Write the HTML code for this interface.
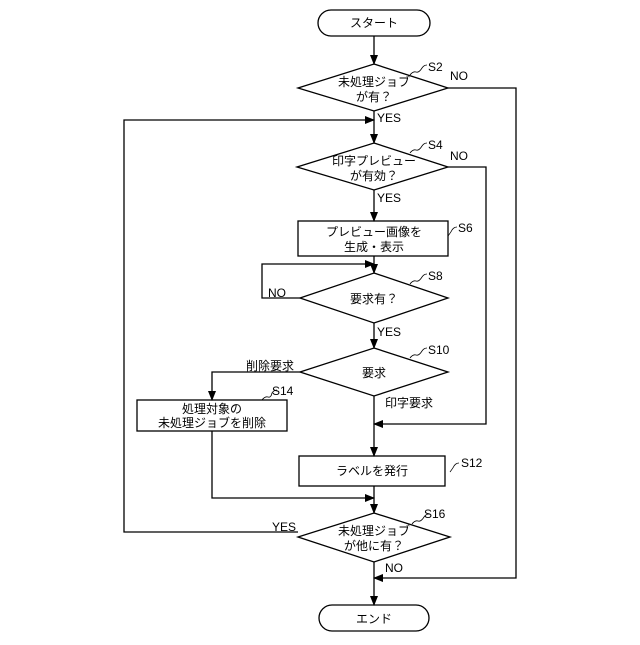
<!DOCTYPE html>
<html><head><meta charset="utf-8"><style>
body{margin:0;background:#fff}
text{font-family:"Liberation Sans","Noto Sans CJK JP",sans-serif;font-size:12px;fill:#000}
</style></head><body>
<svg width="640" height="640" viewBox="0 0 640 640" xmlns="http://www.w3.org/2000/svg">
<defs><marker id="a" markerWidth="10" markerHeight="10" refX="9" refY="5" orient="auto" markerUnits="userSpaceOnUse"><path d="M0,1 L10,5 L0,9 Z" fill="#000"/></marker></defs>
<g fill="none" stroke="#000" stroke-width="1.3">
<rect x="318" y="10" width="112" height="26" rx="13" fill="#fff"/>
<rect x="319" y="605" width="110" height="26" rx="13" fill="#fff"/>
<line x1="374" y1="36" x2="374" y2="64" marker-end="url(#a)"/>
<polygon points="374,64 448,88 374,111 298,88"/>
<polyline points="448,88 516,88 516,578 374,578" marker-end="url(#a)"/>
<line x1="374" y1="111" x2="374" y2="143" marker-end="url(#a)"/>
<polyline points="298,532 124,532 124,120 374,120" marker-end="url(#a)"/>
<polygon points="374,143 448,167 374,190 297,167"/>
<polyline points="448,167 486,167 486,424 374,424" marker-end="url(#a)"/>
<line x1="374" y1="190" x2="374" y2="221" marker-end="url(#a)"/>
<rect x="298" y="221" width="150" height="35"/>
<line x1="374" y1="256" x2="374" y2="273" marker-end="url(#a)"/>
<polygon points="374,273 448,298 374,323 300,298"/>
<polyline points="300,298 262,298 262,264 374,264" marker-end="url(#a)"/>
<line x1="374" y1="323" x2="374" y2="348" marker-end="url(#a)"/>
<polygon points="374,348 448,372 374,396 300,372"/>
<polyline points="300,372 212,372 212,400" marker-end="url(#a)"/>
<rect x="137" y="400" width="150" height="31"/>
<polyline points="212,431 212,498 374,498" marker-end="url(#a)"/>
<line x1="374" y1="396" x2="374" y2="456" marker-end="url(#a)"/>
<rect x="299" y="456" width="146" height="30"/>
<line x1="374" y1="486" x2="374" y2="513" marker-end="url(#a)"/>
<polygon points="374,513 450,537 374,562 298,537"/>
<line x1="374" y1="562" x2="374" y2="605" marker-end="url(#a)"/>
<path d="M410,75 q3,-4 6,-3 q3,1 6,-4 q2,-3 5,-3" stroke-width="0.8"/>
<path d="M410,153 q3,-4 6,-3 q3,1 6,-4 q2,-3 5,-3" stroke-width="0.8"/>
<path d="M448,236 q3,-4 4,-6 q2,-3 5,-3" stroke-width="0.8"/>
<path d="M410,284 q3,-4 6,-3 q3,1 6,-4 q2,-3 5,-3" stroke-width="0.8"/>
<path d="M410,358 q3,-4 6,-3 q3,1 6,-4 q2,-3 5,-3" stroke-width="0.8"/>
<path d="M262,400 q3,-4 6,-3 q3,1 4,-4 q2,-3 5,-3" stroke-width="0.8"/>
<path d="M450,472 q3,-4 4,-6 q2,-3 5,-3" stroke-width="0.8"/>
<path d="M412,524 q3,-4 6,-3 q3,1 6,-4 q2,-3 5,-3" stroke-width="0.8"/>
</g>
<g text-anchor="middle">
<text x="374" y="27">スタート</text>
<text x="374" y="628" dy="-5">エンド</text>
<text x="374" y="86">未処理ジョブ</text>
<text x="374" y="101">が有？</text>
<text x="374" y="165">印字プレビュー</text>
<text x="374" y="180">が有効？</text>
<text x="374" y="236">プレビュー画像を</text>
<text x="374" y="251">生成・表示</text>
<text x="374" y="303">要求有？</text>
<text x="374" y="377">要求</text>
<text x="212" y="413">処理対象の</text>
<text x="212" y="427">未処理ジョブを削除</text>
<text x="372" y="475">ラベルを発行</text>
<text x="374" y="535">未処理ジョブ</text>
<text x="374" y="550">が他に有？</text>
</g>
<text x="428" y="71">S2</text>
<text x="450" y="80">NO</text>
<text x="377" y="122">YES</text>
<text x="428" y="149">S4</text>
<text x="450" y="160">NO</text>
<text x="377" y="202">YES</text>
<text x="458" y="232">S6</text>
<text x="428" y="280">S8</text>
<text x="268" y="297">NO</text>
<text x="377" y="336">YES</text>
<text x="428" y="354">S10</text>
<text x="246" y="370">削除要求</text>
<text x="385" y="407">印字要求</text>
<text x="272" y="395">S14</text>
<text x="461" y="467">S12</text>
<text x="424" y="518">S16</text>
<text x="272" y="531">YES</text>
<text x="385" y="572">NO</text>
</svg>
</body></html>
